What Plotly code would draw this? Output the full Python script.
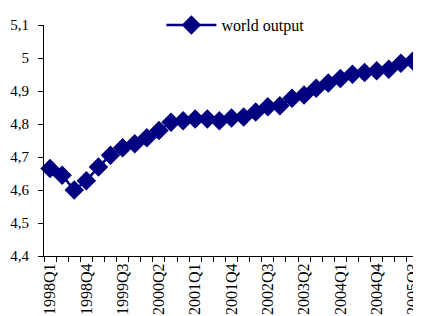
import plotly.graph_objects as go

quarters = [f"{y}Q{q}" for y in range(1998, 2006) for q in range(1, 5)][:31]
world_output = [4.665, 4.645, 4.600, 4.628, 4.670, 4.705, 4.728, 4.740, 4.758, 4.780,
                4.805, 4.810, 4.815, 4.815, 4.810, 4.818, 4.821, 4.836, 4.852, 4.855,
                4.878, 4.888, 4.908, 4.924, 4.938, 4.951, 4.956, 4.961, 4.966, 4.984, 4.991]
tick_labels = quarters[::3]

idx = list(range(len(quarters)))

fig = go.Figure()
fig.add_trace(go.Scatter(
    x=idx, y=world_output, mode="lines+markers", name="world output",
    line=dict(color="#000080", width=2.5),
    marker=dict(symbol="diamond", size=15, color="#000080"),
    cliponaxis=False,
))

fig.update_layout(
    width=413, height=308,
    margin=dict(l=36, r=0, t=7, b=60),
    paper_bgcolor="white", plot_bgcolor="white",
    separators=", ",
    font=dict(family="Liberation Serif", size=16, color="black"),
    showlegend=True,
    legend=dict(x=0.313, y=1.0, xanchor="left", yanchor="middle",
                bgcolor="rgba(0,0,0,0)", font=dict(size=16), itemwidth=50),
    xaxis=dict(
        range=[-0.5, 30.5], showgrid=False, zeroline=False,
        showline=True, linecolor="black", linewidth=1,
        tickmode="array", tickvals=idx[::3], ticktext=tick_labels,
        ticks="outside", ticklen=0, tickangle=-90,
        ticklabeloverflow="allow",
        minor=dict(tickmode="array", tickvals=[i - 0.5 for i in range(32)],
                   ticks="outside", ticklen=5, tickcolor="black"),
        tickfont=dict(size=16),
    ),
    yaxis=dict(
        range=[4.4, 5.1], dtick=0.1, tick0=4.4, showgrid=False, zeroline=False,
        showline=True, linecolor="black", linewidth=1,
        ticks="outside", ticklen=5, tickcolor="black",
        ticklabelstandoff=6,
        tickfont=dict(size=15),
    ),
)

fig.write_html("out.html")
